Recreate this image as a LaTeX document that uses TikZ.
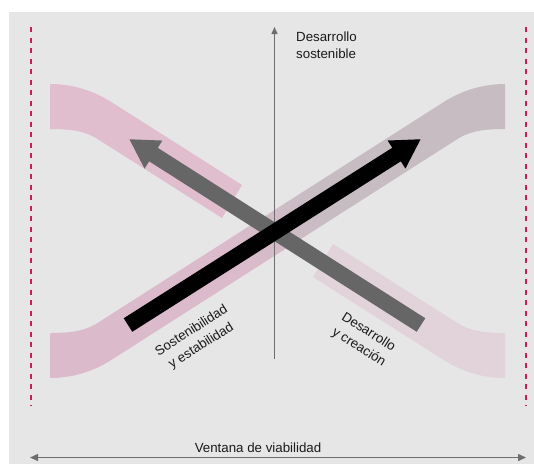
\documentclass[tikz,border=0pt]{standalone}
\usepackage{fontspec}
\setmainfont{Liberation Sans}
\usetikzlibrary{arrows.meta}
\definecolor{bg}{HTML}{E6E6E6}
\definecolor{bandUL}{RGB}{224,190,206}
\definecolor{bandLong}{RGB}{219,187,203}
\definecolor{bandLongR}{RGB}{200,188,195}
\definecolor{bandLR}{RGB}{226,210,218}
\definecolor{arrgray}{HTML}{666666}
\definecolor{axgray}{HTML}{6E6E6E}
\definecolor{reddash}{RGB}{200,30,90}
\definecolor{txt}{HTML}{1A1A1A}
\pgfdeclarehorizontalshading{bandshade}{100bp}{color(0bp)=(bandLong); color(44bp)=(bandLong); color(56bp)=(bandLongR); color(100bp)=(bandLongR)}
\begin{document}
\begin{tikzpicture}[x=1pt,y=-1pt,
  lbl/.style={font=\fontsize{13.3}{16.5}\selectfont, text=txt, inner sep=0pt},
  rlbl/.style={font=\fontsize{13.3}{18}\selectfont, text=txt, inner sep=0pt, align=center},
  bigarrow/.style={line width=16pt, -{Triangle[width=31pt,length=29pt]}},
  limitline/.style={reddash, line width=2pt, dash pattern=on 5pt off 5.5pt},
  axisline/.style={axgray, line width=1.4pt}]
\useasboundingbox (0,0) rectangle (534,464);
\fill[bg] (9,12) rectangle (534,464);
% limit lines
\coordinate (LT) at (30.7,27); \coordinate (LB) at (30.7,406);
\coordinate (RT) at (526,27); \coordinate (RB) at (526,406);
\draw[limitline] (LT) -- (LB);
\draw[limitline] (RT) -- (RB);
% bands
\fill[bandUL] (50,84) .. controls (75,84) and (95,92) .. (110,101.2) -- (242,185) -- (222,218) -- (95,137.4) .. controls (82,130) and (66,129) .. (50,129) -- cycle;
\fill[bandLR] (505,378) .. controls (480,378) and (460,370) .. (445,360.8) -- (313,277) -- (333,244) -- (460,324.6) .. controls (473,332) and (489,333) .. (505,333) -- cycle;
\shade[shading=bandshade, shading angle=32.4] (505,84) .. controls (480,84) and (460,92) .. (445,101.2) -- (95,324.6) .. controls (82,332) and (66,333) .. (50,333) -- (50,378) .. controls (75,378) and (95,370) .. (110,360.8) -- (460,137.4) .. controls (473,130) and (489,129) .. (505,129) -- cycle;
% vertical axis
\coordinate (axB) at (274.5,359);
\coordinate (axT) at (274.5,27);
\draw[axisline, -{Triangle[width=6pt,length=7pt]}] (axB) -- (axT);
\node[lbl, anchor=base west, align=left] (axlabel) at (296,58.4) {Desarrollo\\sostenible};
% big arrows
\coordinate (gTail) at (421,325); \coordinate (gTip) at (129,139);
\coordinate (bTail) at (128,325); \coordinate (bTip) at (421,139);
\draw[bigarrow, arrgray] (gTail) -- (gTip);
\draw[bigarrow, black] (bTail) -- (bTip);
% rotated labels
\node[rlbl, rotate=32.4] (sost) at (196.5,338.5) {Sostenibilidad\\y estabilidad};
\node[rlbl, rotate=-32.4] (desa) at (363.5,340) {Desarrollo\\y creación};
% window arrow
\coordinate (wL) at (30,457.5); \coordinate (wR) at (526,457.5);
\draw[axisline, {Triangle[width=7pt,length=8pt]}-{Triangle[width=7pt,length=8pt]}] (wL) -- (wR);
\node[lbl, anchor=base] (ventana) at (258,452) {Ventana de viabilidad};
\end{tikzpicture}
\end{document}
